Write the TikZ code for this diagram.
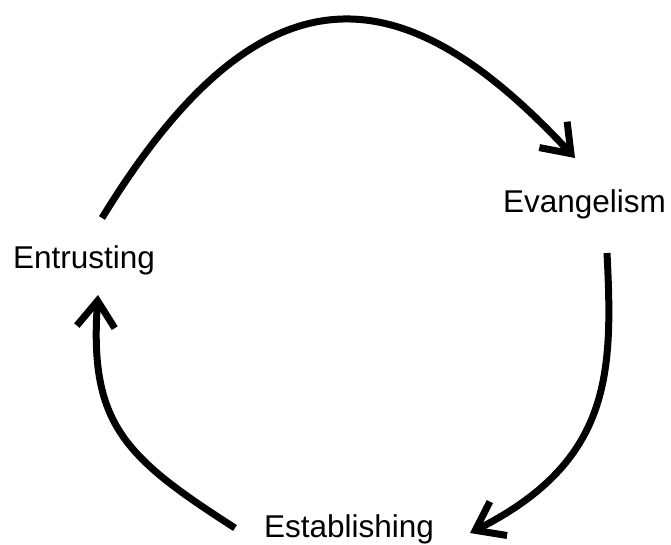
\documentclass[tikz,border=0pt]{standalone}
\usepackage{fontspec}
\setmainfont{Liberation Sans}
\usetikzlibrary{arrows.meta}
\tikzset{
  lbl/.style={inner sep=0pt, anchor=base, font=\fontsize{31.5}{38}\selectfont},
  cyc/.style={line width=7pt, -{Straight Barb[length=26pt,width=38pt,line cap=butt,line join=miter]}}
}
\begin{document}
\begin{tikzpicture}[x=1pt,y=-1pt]
\useasboundingbox (0,0) rectangle (671,545);
\node[lbl] (evang) at (584.5,213) {Evangelism};
\node[lbl] (entr) at (84,268) {Entrusting};
\node[lbl] (estab) at (349,537) {Establishing};
\coordinate (s1) at (102,218);
\coordinate (e1) at (575,158);
\coordinate (s2) at (607,253);
\coordinate (e2) at (470,533);
\coordinate (s3) at (235,528);
\coordinate (e3) at (98,295);
\draw[cyc] (s1) .. controls (269,-55) and (412,-17) .. (e1);
\draw[cyc] (s2) .. controls (613,373) and (612,461) .. (e2);
\draw[cyc] (s3) .. controls (126,458) and (89,425) .. (e3);
\end{tikzpicture}
\end{document}
